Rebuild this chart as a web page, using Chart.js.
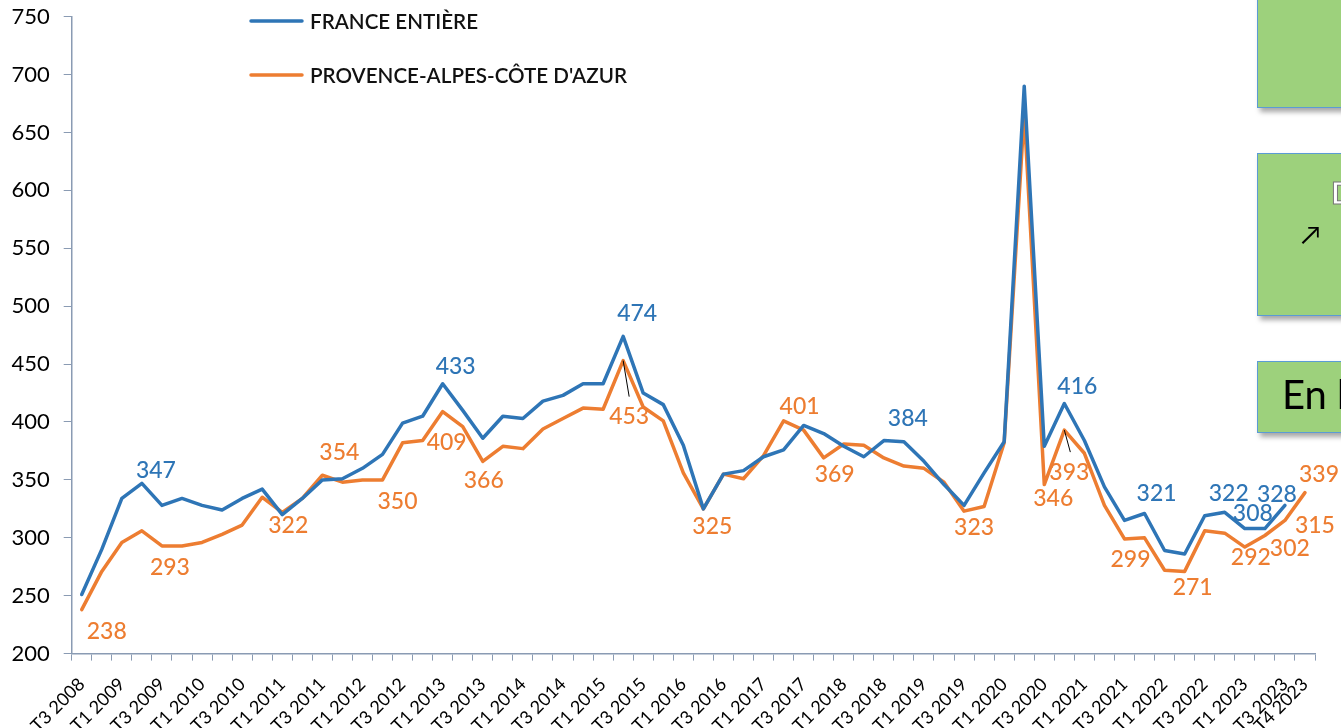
<!DOCTYPE html>
<html>
<head>
<meta charset="utf-8">
<script src="https://cdn.jsdelivr.net/npm/chart.js@4.4.1/dist/chart.umd.min.js"></script>
<style>
  html, body { margin: 0; padding: 0; background: #fff; overflow: hidden; width: 1341px; height: 728px; }
  #wrap { position: relative; width: 1341px; height: 728px; overflow: hidden; }
  canvas { position: absolute; left: 0; top: 0; }
  .box { position: absolute; background: #9DD17C; border: 1.5px solid #5B9BD5; box-shadow: 3px 4px 5px rgba(0,0,0,0.35); overflow: hidden; font-family: Lato, "Open Sans", sans-serif; }
</style>
</head>
<body>
<div id="wrap">
  <canvas id="c" width="1341" height="728"></canvas>
  <div class="box" style="left:1257px; top:-10px; width:110px; height:116px;"></div>
  <div class="box" style="left:1257px; top:153px; width:110px; height:161px;">
    <span style="position:absolute; left:73px; top:20px; font-size:30px; font-weight:700; color:#fff; -webkit-text-stroke:1px #777;">D</span>
    <span style="position:absolute; left:43px; top:64px; font-size:26px; color:#000;">↗</span>
  </div>
  <div class="box" style="left:1257px; top:361px; width:110px; height:70px;">
    <span style="position:absolute; left:24px; top:8px; font-size:40px; color:#000; white-space:nowrap;">En h</span>
  </div>
</div>
<script>
// ---- Data ----
const categories = [
  'T3 2008','T4 2008',
  'T1 2009','T2 2009','T3 2009','T4 2009',
  'T1 2010','T2 2010','T3 2010','T4 2010',
  'T1 2011','T2 2011','T3 2011','T4 2011',
  'T1 2012','T2 2012','T3 2012','T4 2012',
  'T1 2013','T2 2013','T3 2013','T4 2013',
  'T1 2014','T2 2014','T3 2014','T4 2014',
  'T1 2015','T2 2015','T3 2015','T4 2015',
  'T1 2016','T2 2016','T3 2016','T4 2016',
  'T1 2017','T2 2017','T3 2017','T4 2017',
  'T1 2018','T2 2018','T3 2018','T4 2018',
  'T1 2019','T2 2019','T3 2019','T4 2019',
  'T1 2020','T2 2020','T3 2020','T4 2020',
  'T1 2021','T2 2021','T3 2021','T4 2021',
  'T1 2022','T2 2022','T3 2022','T4 2022',
  'T1 2023','T2 2023','T3 2023','T4 2023'
];
const franceEntiere = [
  251, 290, 334, 347, 328, 334, 328, 324, 334, 342,
  320, 334, 350, 351, 360, 372, 399, 405, 433, 410,
  386, 405, 403, 418, 423, 433, 433, 474, 425, 415,
  380, 325, 355, 358, 370, 376, 397, 390, 379, 370,
  384, 383, 366, 346, 328, 356, 383, 690, 379, 416,
  384, 344, 315, 321, 289, 286, 319, 322, 308, 308,
  328
];
const paca = [
  238, 271, 296, 306, 293, 293, 296, 303, 311, 335,
  322, 334, 354, 348, 350, 350, 382, 384, 409, 396,
  366, 379, 377, 394, 403, 412, 411, 453, 413, 401,
  356, 325, 355, 351, 371, 401, 393, 369, 381, 380,
  369, 362, 360, 348, 323, 327, 382, 667, 346, 393,
  373, 328, 299, 300, 272, 271, 306, 304, 292, 302,
  315, 339
];
const yTicks = { min: 200, max: 750, step: 50 };
const seriesNames = ['FRANCE ENTIÈRE', "PROVENCE-ALPES-CÔTE D'AZUR"];

// ---- Styles ----
const BLUE = '#2E75B6';
const ORANGE = '#ED7D31';
const AXIS = '#8A9BB3';
const FONT = 'Lato, "Open Sans", sans-serif';

// label placement (offsets from the point, in px) – style only
const labelPlacement = {
  0: { 3:[14,-13], 18:[13,-17], 27:[14,-23], 40:[24,-22], 49:[13,-17], 53:[12,-20], 57:[4,-19], 58:[8,-15], 60:[-8,-11] },
  1: { 0:[25,22], 4:[8,22], 10:[6,13], 12:[17,-23], 15:[15,22], 18:[4,31], 20:[1,19], 27:[6,56], 31:[9,18], 35:[16,-14],
       37:[11,17], 44:[10,16], 48:[9,14], 49:[5,42], 52:[6,21], 55:[8,16], 58:[6,11], 59:[25,13], 60:[30,5], 61:[14,-18] }
};
const leaderLines = { 1: { 27:[6,36], 49:[6,22] } };

const dataLabelPlugin = {
  id: 'dataLabelPlugin',
  afterDatasetsDraw(chart) {
    const ctx = chart.ctx;
    ctx.save();
    ctx.font = '500 23px ' + FONT;
    ctx.textAlign = 'center';
    ctx.textBaseline = 'middle';
    chart.data.datasets.forEach((ds, di) => {
      const meta = chart.getDatasetMeta(di);
      const place = labelPlacement[di] || {};
      const leads = leaderLines[di] || {};
      Object.keys(leads).forEach(k => {
        const p = meta.data[+k];
        if (!p) return;
        ctx.strokeStyle = '#000';
        ctx.lineWidth = 1;
        ctx.beginPath();
        ctx.moveTo(p.x, p.y);
        ctx.lineTo(p.x + leads[k][0], p.y + leads[k][1]);
        ctx.stroke();
      });
      ctx.fillStyle = ds.borderColor;
      Object.keys(place).forEach(k => {
        const i = +k;
        const p = meta.data[i];
        if (!p) return;
        ctx.fillText(String(ds.data[i]), p.x + place[k][0], p.y + place[k][1]);
      });
    });
    ctx.restore();
  }
};

const legendPlugin = {
  id: 'customLegend',
  afterDraw(chart) {
    const ctx = chart.ctx;
    ctx.save();
    const ys = [21, 75];
    chart.data.datasets.forEach((ds, i) => {
      ctx.strokeStyle = ds.borderColor;
      ctx.lineWidth = 3.5;
      ctx.lineCap = 'round';
      ctx.beginPath();
      ctx.moveTo(251, ys[i]);
      ctx.lineTo(302, ys[i]);
      ctx.stroke();
      ctx.fillStyle = '#111';
      ctx.font = '600 20.6px ' + FONT;
      ctx.textAlign = 'left';
      ctx.textBaseline = 'middle';
      ctx.fillText(ds.label, 310, ys[i] + 1);
    });
    ctx.restore();
  }
};

new Chart(document.getElementById('c'), {
  type: 'line',
  data: {
    labels: categories,
    datasets: [
      { label: seriesNames[0], data: franceEntiere, borderColor: BLUE, backgroundColor: BLUE,
        borderWidth: 3.5, pointRadius: 0, tension: 0, borderJoinStyle: 'round', borderCapStyle: 'round' },
      { label: seriesNames[1], data: paca, borderColor: ORANGE, backgroundColor: ORANGE,
        borderWidth: 3.5, pointRadius: 0, tension: 0, borderJoinStyle: 'round', borderCapStyle: 'round' }
    ]
  },
  options: {
    responsive: false,
    animation: false,
    devicePixelRatio: 1,
    layout: { padding: { top: 16.7, right: 26, left: 0, bottom: 0 } },
    plugins: { legend: { display: false }, tooltip: { enabled: false } },
    scales: {
      x: {
        type: 'category',
        offset: true,
        grid: { display: true, drawOnChartArea: false, drawTicks: true, tickLength: 7, color: AXIS, offset: true },
        border: { display: true, color: AXIS, width: 1.5 },
        ticks: {
          autoSkip: false, minRotation: 45, maxRotation: 45, padding: 20,
          color: '#000', font: { family: FONT, size: 18, lineHeight: 0.1 },
          callback: function(value, index, ticks) {
            return (index % 2 === 0 || index === ticks.length - 1) ? this.getLabelForValue(value) : '';
          }
        },
        afterFit(scale) { scale.height = 74.4; scale.paddingLeft = 0; scale.paddingRight = 0; }
      },
      y: {
        min: yTicks.min, max: yTicks.max,
        grid: { display: true, drawOnChartArea: false, drawTicks: true, tickLength: 8, color: AXIS },
        border: { display: true, color: AXIS, width: 1.5 },
        ticks: { stepSize: yTicks.step, padding: 14, color: '#000', font: { family: FONT, size: 22 } },
        afterFit(scale) { scale.width = 71.7; scale.paddingTop = 0; scale.paddingBottom = 0; }
      }
    }
  },
  plugins: [dataLabelPlugin, legendPlugin]
});
</script>
</body>
</html>
